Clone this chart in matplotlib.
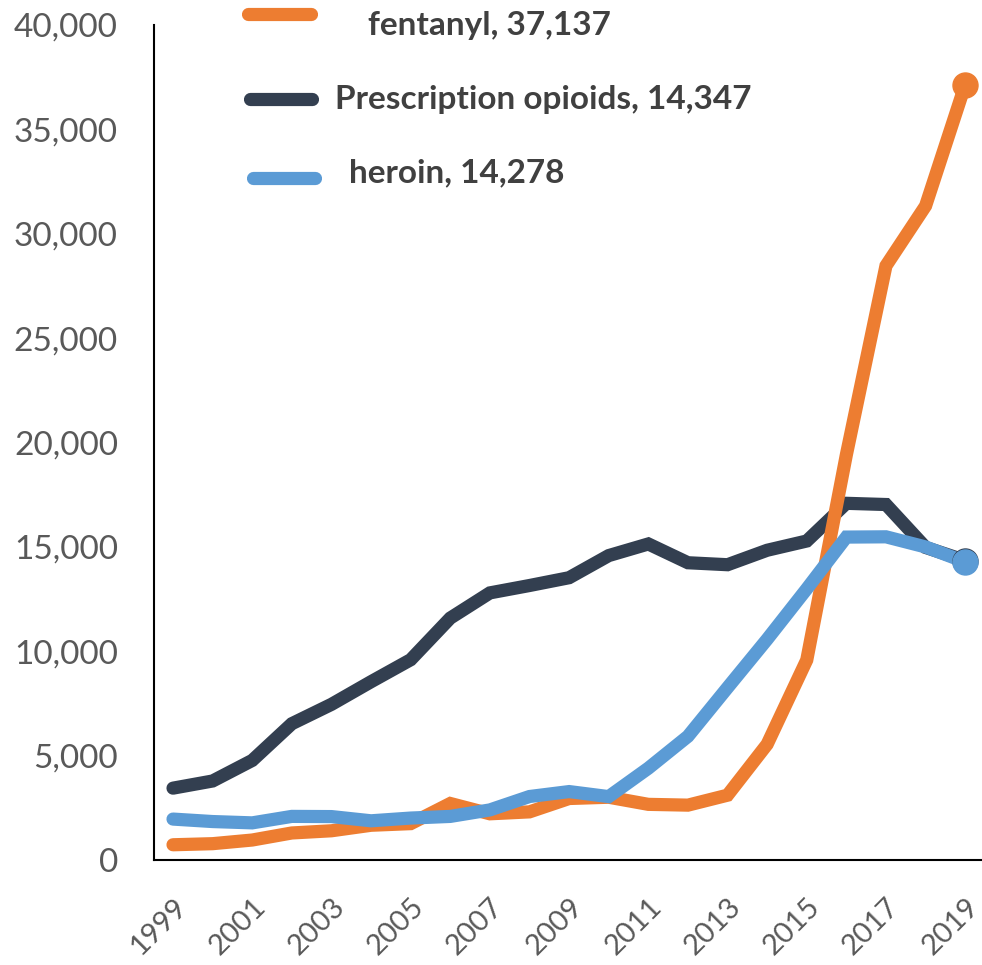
import matplotlib
matplotlib.use("Agg")
import matplotlib.pyplot as plt
from matplotlib.lines import Line2D
from matplotlib.ticker import FuncFormatter

years = list(range(1999, 2020))
fentanyl = [730, 782, 957, 1295, 1400, 1664, 1742, 2707, 2213, 2306, 2946,
            3007, 2666, 2628, 3105, 5544, 9580, 19413, 28466, 31335, 37137]
rx_opioids = [3442, 3785, 4770, 6530, 7456, 8541, 9594, 11589, 12796, 13149, 13523,
              14583, 15140, 14240, 14145, 14838, 15281, 17087, 17029, 14975, 14347]
heroin = [1960, 1842, 1779, 2089, 2080, 1878, 2009, 2088, 2399, 3041, 3278,
          3036, 4397, 5925, 8257, 10574, 12989, 15469, 15482, 14996, 14278]
labels = ["fentanyl, 37,137", "Prescription opioids, 14,347", "heroin, 14,278"]

c_fen = "#ED7D31"
c_rx = "#333F50"
c_her = "#5B9BD5"

plt.rcParams['font.family'] = ['Lato', 'DejaVu Sans']

W, H = 982, 965
fig = plt.figure(figsize=(W/100, H/100), dpi=100)
ax = fig.add_axes([154/W, 1-860/H, 831/W, 835/H])

lw = 9.5
ax.plot(years, rx_opioids, color=c_rx, lw=lw, solid_capstyle='round', solid_joinstyle='miter')
ax.plot(years, fentanyl, color=c_fen, lw=lw, solid_capstyle='round', solid_joinstyle='miter')
ax.plot(years, heroin, color=c_her, lw=lw, solid_capstyle='round', solid_joinstyle='miter')
ax.plot(years[-1], rx_opioids[-1], 'o', color=c_rx, ms=18, clip_on=False)
ax.plot(years[-1], fentanyl[-1], 'o', color=c_fen, ms=18, clip_on=False)
ax.plot(years[-1], heroin[-1], 'o', color=c_her, ms=18, clip_on=False)

ax.set_xlim(1998.52, 2019.5)
ax.set_ylim(0, 40000)
ax.set_yticks(range(0, 40001, 5000))
ax.yaxis.set_major_formatter(FuncFormatter(lambda v, p: f"{int(v):,}"))
ax.set_xticks(years[::2])
ax.set_xticklabels([str(y) for y in years[::2]], rotation=45, ha='right', va='top',
                   rotation_mode='anchor')
ax.tick_params(axis='y', length=0, pad=26, labelsize=24, labelcolor='#595959')
ax.tick_params(axis='x', length=0, pad=24, labelsize=21, labelcolor='#595959')
for s in ['top', 'right']:
    ax.spines[s].set_visible(False)
for s in ['left', 'bottom']:
    ax.spines[s].set_color('black')
    ax.spines[s].set_linewidth(1.5)

# legend drawn by hand
leg = [(c_fen, 248, 311, 14, 368, 25),
       (c_rx, 250, 312, 99, 335, 100),
       (c_her, 253, 315, 178, 349, 173)]
for (col, x0, x1, yl, xt, yt), lab in zip(leg, labels):
    fig.add_artist(Line2D([x0/W, x1/W], [1-yl/H, 1-yl/H], color=col, lw=lw,
                          solid_capstyle='round', transform=fig.transFigure))
    fig.text(xt/W, 1-yt/H, lab, fontsize=24, fontweight='bold', color='#404040',
             ha='left', va='center')

fig.savefig("out.png", dpi=100)
